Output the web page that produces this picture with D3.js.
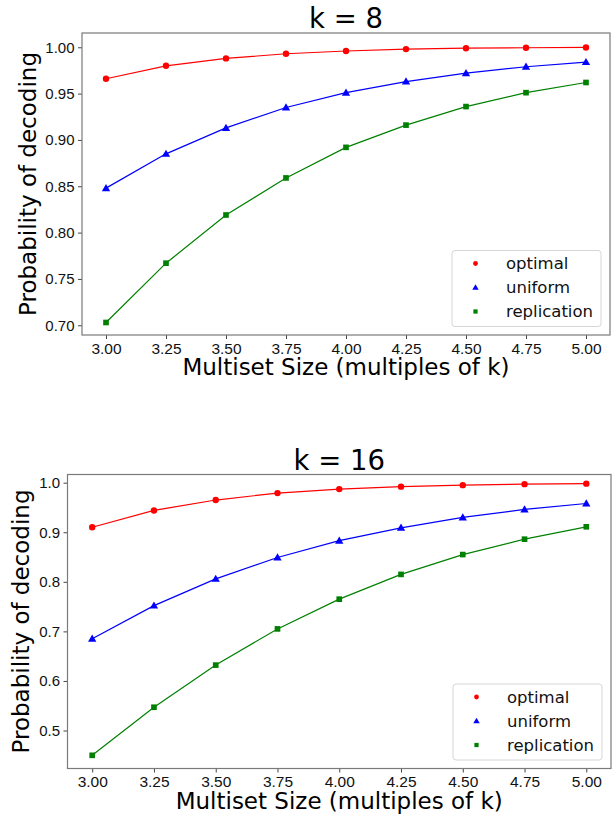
<!DOCTYPE html>
<html>
<head>
<meta charset="utf-8">
<script src="https://cdnjs.cloudflare.com/ajax/libs/d3/7.8.5/d3.min.js"></script>
<style>
  body { margin: 0; background: #fff; }
  svg { display: block; font-family: "DejaVu Sans", sans-serif; }
  .axis path { display: none; }
  .axis line { stroke: #444; stroke-width: 1; }
  .axis text { fill: #111; }
</style>
</head>
<body>
<div id="chart"></div>
<script>
var multisetSizes = [3.00, 3.25, 3.50, 3.75, 4.00, 4.25, 4.50, 4.75, 5.00];
var seriesNames = ["optimal", "uniform", "replication"];

var optimalK8 = [0.966, 0.980, 0.988, 0.993, 0.996, 0.998, 0.999, 0.9995, 0.9998];
var uniformK8 = [0.848, 0.885, 0.913, 0.935, 0.951, 0.963, 0.972, 0.979, 0.984];
var replicationK8 = [0.703, 0.767, 0.819, 0.859, 0.892, 0.916, 0.936, 0.951, 0.962];

var optimalK16 = [0.910, 0.944, 0.965, 0.979, 0.987, 0.992, 0.995, 0.997, 0.998];
var uniformK16 = [0.685, 0.752, 0.806, 0.849, 0.883, 0.909, 0.930, 0.946, 0.958];
var replicationK16 = [0.450, 0.547, 0.632, 0.705, 0.765, 0.815, 0.855, 0.886, 0.911];

var xTicks = [3.00, 3.25, 3.50, 3.75, 4.00, 4.25, 4.50, 4.75, 5.00];
var yTicksK8 = [0.70, 0.75, 0.80, 0.85, 0.90, 0.95, 1.00];
var yTicksK16 = [0.5, 0.6, 0.7, 0.8, 0.9, 1.0];

var colors = ["#ff0000", "#0000ff", "#008000"];
var symbols = [d3.symbolCircle, d3.symbolTriangle, d3.symbolSquare];

var svg = d3.select("#chart")
  .append("svg")
    .attr("width", 616)
    .attr("height", 817);

function drawPanel(p) {
  var x = d3.scaleLinear()
      .domain([2.9, 5.1])
      .range([p.left, p.right]);

  var y = d3.scaleLinear()
      .domain(p.yDomain)
      .range([p.bottom, p.top]);

  var g = svg.append("g");

  // x-axis
  g.append("g")
      .attr("class", "axis")
      .attr("transform", "translate(0," + p.bottom + ")")
      .call(d3.axisBottom(x).tickValues(xTicks).tickFormat(d3.format(".2f"))
        .tickSizeInner(4).tickPadding(3.5))
      .selectAll("text")
        .style("font-size", "15.5px");

  // y-axis
  g.append("g")
      .attr("class", "axis")
      .attr("transform", "translate(" + p.left + ",0)")
      .call(d3.axisLeft(y).tickValues(p.yTicks).tickFormat(d3.format(p.yFormat))
        .tickSizeInner(4).tickPadding(3.5))
      .selectAll("text")
        .style("font-size", "15px");

  // frame
  g.append("rect")
      .attr("x", p.left)
      .attr("y", p.top)
      .attr("width", p.right - p.left)
      .attr("height", p.bottom - p.top)
      .attr("fill", "none")
      .attr("stroke", "#7a7a7a")
      .attr("stroke-width", 1.2);

  var line = d3.line()
      .x(function(d, i) { return x(multisetSizes[i]); })
      .y(function(d) { return y(d); });

  p.series.forEach(function(values, s) {
    g.append("path")
        .attr("d", line(values))
        .attr("fill", "none")
        .attr("stroke", colors[s])
        .attr("stroke-width", 1.2);

    g.selectAll(".pt" + s)
      .data(values)
      .enter()
      .append("path")
        .attr("d", d3.symbol().type(symbols[s]).size(s == 1 ? 30 : 32))
        .attr("transform", function(d, i) {
          return "translate(" + x(multisetSizes[i]) + "," + (y(d) + (s == 1 ? 0.6 : 0)) + ")";
        })
        .attr("fill", colors[s]);
  });

  // title
  g.append("text")
      .attr("x", (p.left + p.right) / 2)
      .attr("y", p.top - 5)
      .attr("text-anchor", "middle")
      .style("font-size", "27.5px")
      .text(p.title);

  // axis labels
  g.append("text")
      .attr("x", (p.left + p.right) / 2)
      .attr("y", p.bottom + 40)
      .attr("text-anchor", "middle")
      .style("font-size", "23px")
      .text("Multiset Size (multiples of k)");

  g.append("text")
      .attr("transform", "translate(" + p.yLabelX + "," + (p.top + p.bottom) / 2 + ") rotate(-90)")
      .attr("text-anchor", "middle")
      .style("font-size", "23px")
      .text("Probability of decoding");

  // legend
  var lw = 149, lh = 76,
      lx = p.right - 9 - lw,
      ly = p.bottom - 8.5 - lh;

  var legend = g.append("g")
      .attr("transform", "translate(" + lx + "," + ly + ")");

  legend.append("rect")
      .attr("width", lw)
      .attr("height", lh)
      .attr("rx", 3)
      .attr("fill", "#fff")
      .attr("fill-opacity", 0.8)
      .attr("stroke", "#d6d6d6");

  seriesNames.forEach(function(name, s) {
    var cy = 13 + s * 24;
    legend.append("path")
        .attr("d", d3.symbol().type(symbols[s]).size(18))
        .attr("transform", "translate(23.5," + (cy + (s == 1 ? 0.5 : 0)) + ")")
        .attr("fill", colors[s]);
    legend.append("text")
        .attr("x", 54)
        .attr("y", cy)
        .attr("dy", "0.35em")
        .style("font-size", "16.5px")
        .attr("fill", "#111")
        .text(name);
  });
}

drawPanel({
  title: "k = 8",
  left: 82, right: 610, top: 33, bottom: 335,
  yDomain: [0.6895, 1.0154],
  yTicks: yTicksK8, yFormat: ".2f",
  yLabelX: 36,
  series: [optimalK8, uniformK8, replicationK8]
});

drawPanel({
  title: "k = 16",
  left: 67.5, right: 611, top: 474.5, bottom: 768.5,
  yDomain: [0.4234, 1.0165],
  yTicks: yTicksK16, yFormat: ".1f",
  yLabelX: 28.5,
  series: [optimalK16, uniformK16, replicationK16]
});
</script>
</body>
</html>
